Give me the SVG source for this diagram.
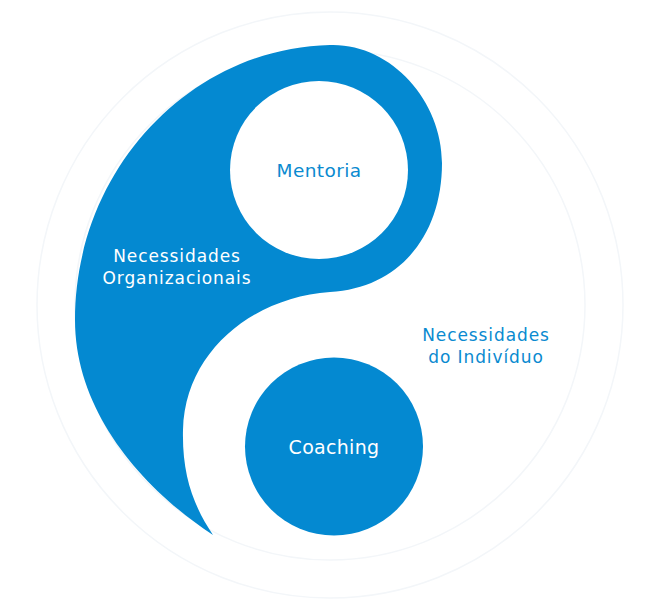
<svg xmlns="http://www.w3.org/2000/svg" width="659" height="610" viewBox="0 0 659 610">
<style>
.blue{fill:#0489d1}
.ring{fill:none;stroke:#f3f6f9;stroke-width:1.5}
text{font-family:"DejaVu Sans","Liberation Sans",sans-serif;text-anchor:middle}
.lbl{font-size:17px;letter-spacing:0.9px}
.w{fill:#ffffff}
.b{fill:#0a8ad0}
</style>
<rect width="659" height="610" fill="#ffffff"/>
<g id="rings">
<circle class="ring" cx="330" cy="305" r="293"/>
<circle class="ring" cx="330" cy="305" r="255"/>
</g>
<g id="organizacionais">
<path class="blue" d="M330 45 C390 43 442 100 442 163 C442 235 400 288 330 292 C255 297 185 350 183 430 C182 475 193 505 213 535 C140 487 75 410 75 320 C75 170 190 48 330 45 Z"/>
<text class="lbl w" x="177" y="262">Necessidades</text>
<text class="lbl w" x="177" y="284">Organizacionais</text>
</g>
<g id="mentoria">
<circle cx="319" cy="170" r="89" fill="#ffffff"/>
<text class="b" x="319" y="177" font-size="18.5" letter-spacing="0.4">Mentoria</text>
</g>
<g id="individuo">
<text class="lbl b" x="486" y="341">Necessidades</text>
<text class="lbl b" x="486" y="363">do Indivíduo</text>
</g>
<g id="coaching">
<circle class="blue" cx="334" cy="446.5" r="89"/>
<text class="w" x="334" y="454" font-size="19" letter-spacing="0.3">Coaching</text>
</g>
<g id="connectors"></g>
</svg>
